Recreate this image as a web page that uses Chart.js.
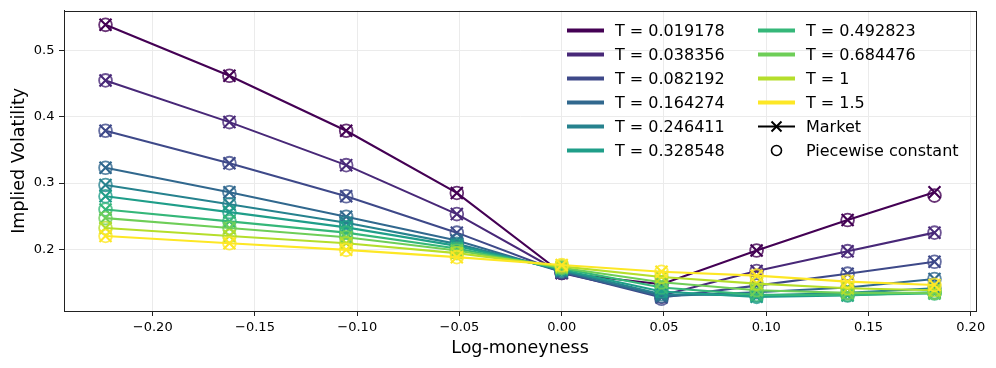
<!DOCTYPE html>
<html><head><meta charset="utf-8">
<script src="https://cdn.jsdelivr.net/npm/chart.js@4.4.1/dist/chart.umd.min.js"></script>
<style>html,body{margin:0;padding:0;background:#fff;}</style>
</head><body>
<canvas id="c" width="996" height="368"></canvas>
<script>
const logMoneyness = [-0.2231, -0.1625, -0.1054, -0.0513, 0.0, 0.0488, 0.0953, 0.1398, 0.1823];
const maturities = ['0.019178', '0.038356', '0.082192', '0.164274', '0.246411', '0.328548', '0.492823', '0.684476', '1', '1.5'];
const marketIV = [
  [0.539, 0.462, 0.379, 0.285, 0.164, 0.147, 0.198, 0.244, 0.286],
  [0.455, 0.392, 0.327, 0.253, 0.164, 0.130, 0.167, 0.197, 0.225],
  [0.379, 0.330, 0.280, 0.225, 0.165, 0.127, 0.145, 0.163, 0.181],
  [0.323, 0.286, 0.249, 0.213, 0.166, 0.129, 0.135, 0.142, 0.155],
  [0.297, 0.268, 0.240, 0.208, 0.168, 0.132, 0.130, 0.134, 0.141],
  [0.280, 0.256, 0.233, 0.205, 0.169, 0.136, 0.128, 0.130, 0.135],
  [0.260, 0.242, 0.225, 0.201, 0.171, 0.142, 0.131, 0.131, 0.133],
  [0.247, 0.232, 0.218, 0.198, 0.172, 0.150, 0.138, 0.134, 0.134],
  [0.232, 0.220, 0.209, 0.194, 0.174, 0.158, 0.148, 0.141, 0.138],
  [0.220, 0.209, 0.199, 0.188, 0.176, 0.166, 0.160, 0.151, 0.146]
];
const modelIV = [
  [0.539, 0.462, 0.379, 0.285, 0.164, 0.147, 0.198, 0.244, 0.281],
  [0.455, 0.392, 0.327, 0.253, 0.164, 0.128, 0.167, 0.197, 0.225],
  [0.379, 0.330, 0.280, 0.225, 0.165, 0.125, 0.145, 0.163, 0.181],
  [0.323, 0.286, 0.249, 0.213, 0.166, 0.129, 0.135, 0.142, 0.155],
  [0.297, 0.268, 0.240, 0.208, 0.168, 0.132, 0.130, 0.134, 0.141],
  [0.280, 0.256, 0.233, 0.205, 0.169, 0.136, 0.128, 0.130, 0.135],
  [0.260, 0.242, 0.225, 0.201, 0.171, 0.142, 0.131, 0.131, 0.133],
  [0.247, 0.232, 0.218, 0.198, 0.172, 0.150, 0.138, 0.134, 0.134],
  [0.232, 0.220, 0.209, 0.194, 0.174, 0.158, 0.148, 0.141, 0.138],
  [0.220, 0.209, 0.199, 0.188, 0.176, 0.166, 0.160, 0.151, 0.146]
];
const colors = ['#440154', '#482878', '#3e4989', '#31688e', '#26828e', '#1f9e89', '#35b779', '#6ece58', '#b5de2b', '#fde725'];
const xTicks = [-0.20, -0.15, -0.10, -0.05, 0.00, 0.05, 0.10, 0.15, 0.20];
const yTicks = [0.2, 0.3, 0.4, 0.5];
const xTitle = 'Log-moneyness';
const yTitle = 'Implied Volatility';
const legendMarket = 'Market';
const legendModel = 'Piecewise constant';

const FONT = '"DejaVu Sans", sans-serif';

function hexA(hex, a) {
  const n = parseInt(hex.slice(1), 16);
  return `rgba(${(n >> 16) & 255},${(n >> 8) & 255},${n & 255},${a})`;
}

const datasets = [];
maturities.forEach((m, i) => {
  datasets.push({
    label: 'T = ' + m,
    data: logMoneyness.map((x, j) => ({x, y: marketIV[i][j]})),
    borderColor: colors[i],
    backgroundColor: colors[i],
    borderWidth: 2.1,
    pointStyle: 'crossRot',
    pointRadius: 8.5,
    pointBorderWidth: 2.1,
    pointBorderColor: colors[i],
    pointHoverRadius: 8.5,
    tension: 0,
    showLine: true,
    order: 100 - 2 * i
  });
  datasets.push({
    label: 'model ' + m,
    data: logMoneyness.map((x, j) => ({x, y: modelIV[i][j]})),
    borderColor: hexA(colors[i], 0.8),
    backgroundColor: 'rgba(0,0,0,0)',
    showLine: false,
    pointStyle: 'circle',
    pointRadius: 6.4,
    pointBorderWidth: 1.8,
    pointBorderColor: hexA(colors[i], 0.8),
    pointBackgroundColor: 'rgba(0,0,0,0)',
    pointHoverRadius: 6.4,
    order: 99 - 2 * i
  });
});

const framePlugin = {
  id: 'frame',
  afterDraw(chart) {
    const {ctx, chartArea: a} = chart;
    ctx.save();
    ctx.strokeStyle = '#222';
    ctx.lineWidth = 1;
    ctx.strokeRect(Math.round(a.left) + 0.5, Math.round(a.top) + 0.5, Math.round(a.right - a.left), Math.round(a.bottom - a.top));
    ctx.restore();
  }
};

const legendPlugin = {
  id: 'mplLegend',
  afterDraw(chart) {
    const ctx = chart.ctx;
    ctx.save();
    ctx.font = '16px ' + FONT;
    ctx.textBaseline = 'middle';
    ctx.textAlign = 'left';
    const rowY = [30.5, 54.5, 78.5, 102.5, 126.5, 150.5];
    const cols = [{h0: 567, h1: 604, tx: 615}, {h0: 758, h1: 795, tx: 806}];
    const entries = maturities.map((m, i) => ({type: 'line', color: colors[i], text: 'T = ' + m}));
    entries.push({type: 'market', text: legendMarket});
    entries.push({type: 'model', text: legendModel});
    entries.forEach((e, k) => {
      const c = cols[k < 6 ? 0 : 1];
      const y = rowY[k % 6];
      const cx = (c.h0 + c.h1) / 2;
      if (e.type === 'line') {
        ctx.strokeStyle = e.color;
        ctx.lineWidth = 4;
        ctx.lineCap = 'butt';
        ctx.beginPath(); ctx.moveTo(c.h0, y); ctx.lineTo(c.h1, y); ctx.stroke();
      } else if (e.type === 'market') {
        ctx.strokeStyle = '#000';
        ctx.lineWidth = 2;
        ctx.beginPath(); ctx.moveTo(c.h0, y); ctx.lineTo(c.h1, y); ctx.stroke();
        const r = 5;
        ctx.beginPath();
        ctx.moveTo(cx - r, y - r); ctx.lineTo(cx + r, y + r);
        ctx.moveTo(cx - r, y + r); ctx.lineTo(cx + r, y - r);
        ctx.stroke();
      } else {
        ctx.strokeStyle = '#000';
        ctx.lineWidth = 1.6;
        ctx.beginPath(); ctx.arc(cx, y, 5, 0, Math.PI * 2); ctx.stroke();
      }
      ctx.fillStyle = '#000';
      ctx.fillText(e.text, c.tx, y + 1);
    });
    ctx.restore();
  }
};

const fmtX = v => (v < 0 ? '\u2212' + Math.abs(v).toFixed(2) : Math.abs(v).toFixed(2));

new Chart(document.getElementById('c'), {
  type: 'scatter',
  data: {datasets},
  options: {
    responsive: false,
    devicePixelRatio: 1,
    animation: false,
    events: [],
    layout: {padding: {top: 9, right: 20, left: 0, bottom: 0}},
    plugins: {legend: {display: false}, tooltip: {enabled: false}},
    scales: {
      x: {
        type: 'linear',
        min: -0.2434,
        max: 0.2026,
        afterFit: s => { s.height = 57; },
        afterBuildTicks: s => { s.ticks = xTicks.map(v => ({value: v})); },
        ticks: {
          callback: v => fmtX(v),
          font: {family: FONT, size: 13},
          color: '#000',
          padding: 3.5,
          maxRotation: 0,
          autoSkip: false
        },
        grid: {color: '#ebebeb', lineWidth: 1, tickLength: 5, tickColor: '#222', drawTicks: true},
        border: {display: true, color: '#222', width: 1},
        title: {display: true, text: xTitle, font: {family: FONT, size: 17.5}, color: '#000', padding: {top: 0, bottom: 9}}
      },
      y: {
        type: 'linear',
        min: 0.1066,
        max: 0.5605,
        afterFit: s => { s.width = 64; s.paddingTop = 0; s.paddingBottom = 0; },
        afterBuildTicks: s => { s.ticks = yTicks.map(v => ({value: v})); },
        ticks: {
          callback: v => v.toFixed(1),
          font: {family: FONT, size: 13},
          color: '#000',
          padding: 4.5
        },
        grid: {color: '#ebebeb', lineWidth: 1, tickLength: 5, tickColor: '#222', drawTicks: true},
        border: {display: true, color: '#222', width: 1},
        title: {display: true, text: yTitle, font: {family: FONT, size: 17.5}, color: '#000', padding: {top: 9, bottom: 0}}
      }
    }
  },
  plugins: [framePlugin, legendPlugin]
});
</script>
</body></html>
